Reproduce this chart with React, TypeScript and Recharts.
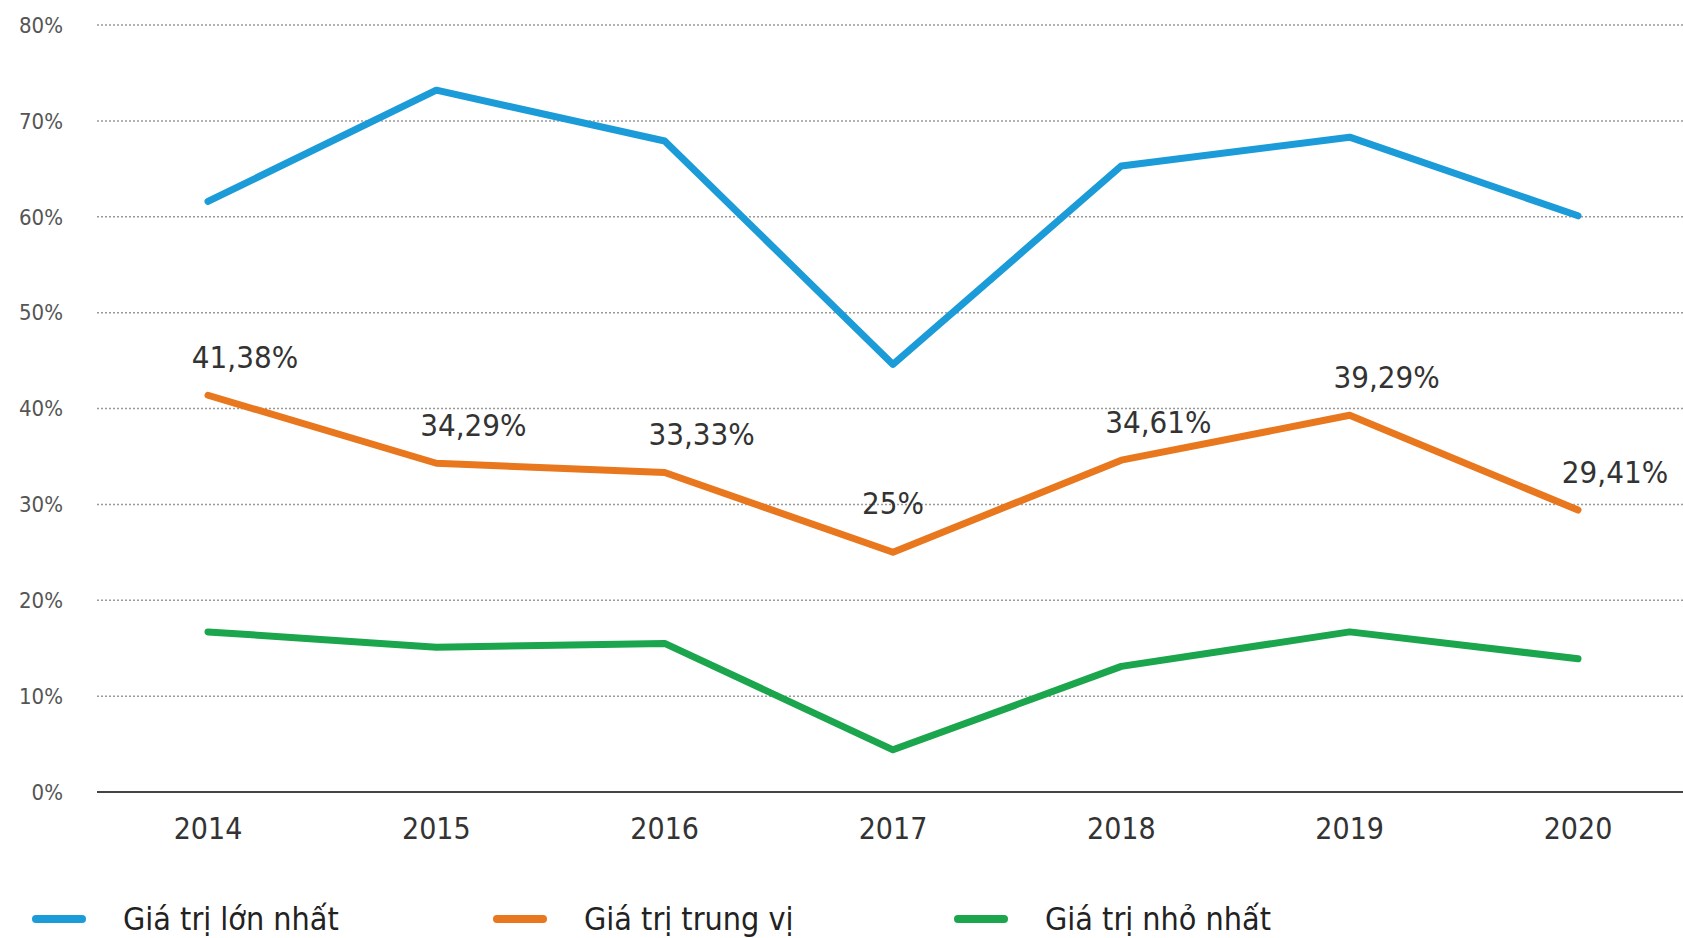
import {
  LineChart,
  Line,
  XAxis,
  YAxis,
  CartesianGrid,
  Legend,
  LabelList,
} from "recharts";

const years = ["2014", "2015", "2016", "2017", "2018", "2019", "2020"];
const maxValues = [61.6, 73.2, 67.9, 44.6, 65.3, 68.3, 60.1];
const medianValues = [41.38, 34.29, 33.33, 25, 34.61, 39.29, 29.41];
const minValues = [16.7, 15.1, 15.5, 4.4, 13.1, 16.7, 13.9];
const yTicks = [0, 10, 20, 30, 40, 50, 60, 70, 80];

const series = [
  { key: "max", name: "Giá trị lớn nhất", color: "#1b9bd7" },
  { key: "median", name: "Giá trị trung vị", color: "#e8771e" },
  { key: "min", name: "Giá trị nhỏ nhất", color: "#1ba54c" },
];

const data = years.map((year, i) => ({
  year,
  max: maxValues[i],
  median: medianValues[i],
  min: minValues[i],
}));

const FONT = "'DejaVu Sans Condensed', 'Liberation Sans Narrow', 'DejaVu Sans', sans-serif";

function MedianLabel(props: any) {
  const { x, y, value, index } = props;
  // the dip label sits straight above its point, the others lean right
  const dx = index === 3 ? 0 : 37;
  const dy = index === 3 ? -49 : -38;
  return (
    <text
      x={x + dx}
      y={y + dy}
      textAnchor="middle"
      dominantBaseline="central"
      fontFamily={FONT}
      fontSize={31}
      fill="#333"
    >
      {String(value).replace(".", ",")}%
    </text>
  );
}

function LegendContent() {
  return (
    <div style={{ position: "relative", width: 1683, height: 66 }}>
      {series.map((s, i) => (
        <div
          key={s.key}
          style={{
            position: "absolute",
            left: 32 + i * 461,
            top: 32,
            display: "flex",
            alignItems: "center",
            height: 30,
          }}
        >
          <div
            style={{
              width: 54,
              height: 8,
              borderRadius: 4,
              background: s.color,
              marginRight: 37,
            }}
          />
          <span style={{ fontFamily: FONT, fontSize: 32, color: "#222" }}>
            {s.name}
          </span>
        </div>
      ))}
    </div>
  );
}

export default function App() {
  return (
    <div style={{ position: "absolute", left: 0, top: 0, background: "#fff" }}>
      <LineChart
        width={1683}
        height={938}
        data={data}
        margin={{ top: 25, right: 0, bottom: 0, left: 0 }}
      >
        <CartesianGrid
          vertical={false}
          stroke="#999"
          strokeDasharray="2 2"
          strokeWidth={1.5}
        />
        <XAxis
          dataKey="year"
          height={80}
          padding={{ left: 111, right: 105 }}
          tickLine={false}
          tickSize={0}
          tickMargin={26}
          axisLine={{ stroke: "#444", strokeWidth: 2 }}
          tick={{ fontFamily: FONT, fontSize: 30, fill: "#333" }}
        />
        <YAxis
          width={97}
          domain={[0, 80]}
          ticks={yTicks}
          tickFormatter={(v: number) => `${v}%`}
          axisLine={false}
          tickLine={false}
          tickSize={0}
          tickMargin={34}
          tick={{ fontFamily: FONT, fontSize: 22, fill: "#555" }}
        />
        <Legend
          verticalAlign="bottom"
          align="left"
          wrapperStyle={{ left: 0, bottom: 0, height: 66 }}
          content={<LegendContent />}
        />
        <Line
          dataKey="max"
          name={series[0].name}
          stroke={series[0].color}
          strokeWidth={7}
          dot={false}
          strokeLinecap="round"
          strokeLinejoin="round"
          isAnimationActive={false}
        />
        <Line
          dataKey="median"
          name={series[1].name}
          stroke={series[1].color}
          strokeWidth={7}
          dot={false}
          strokeLinecap="round"
          strokeLinejoin="round"
          isAnimationActive={false}
        >
          <LabelList dataKey="median" content={<MedianLabel />} />
        </Line>
        <Line
          dataKey="min"
          name={series[2].name}
          stroke={series[2].color}
          strokeWidth={7}
          dot={false}
          strokeLinecap="round"
          strokeLinejoin="round"
          isAnimationActive={false}
        />
      </LineChart>
    </div>
  );
}
